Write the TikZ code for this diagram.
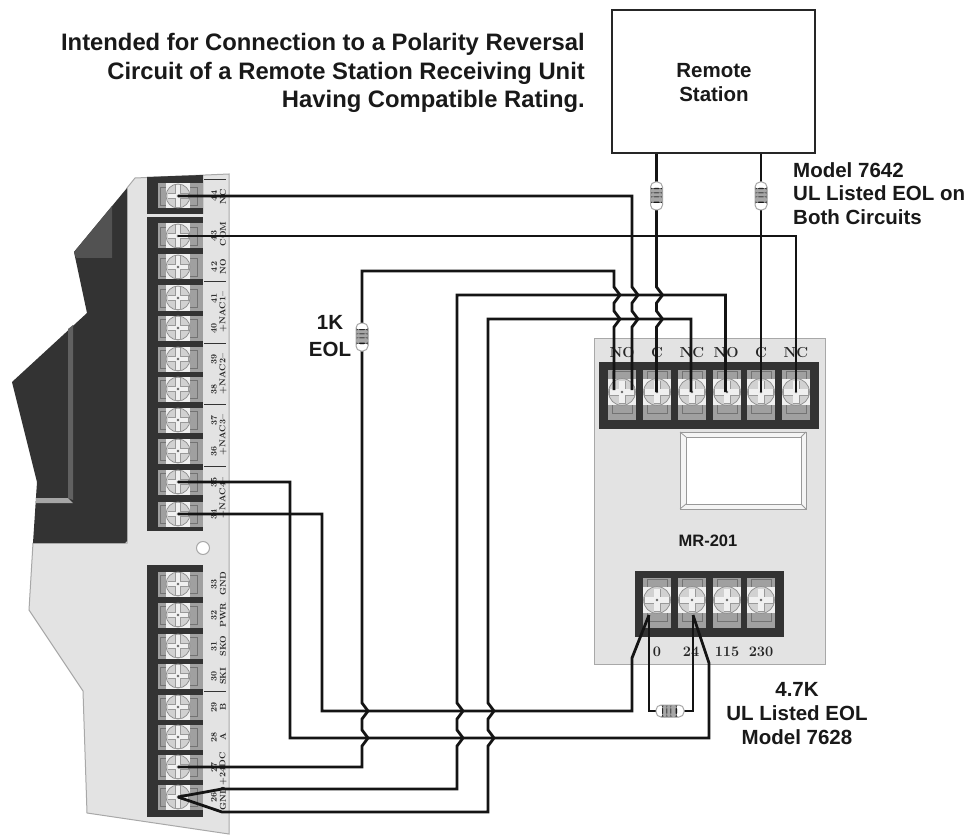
\documentclass[tikz,border=0pt]{standalone}
\usepackage{fontspec}
\newfontfamily\arialb{Liberation Sans}[BoldFont={Liberation Sans Bold}]
\usetikzlibrary{calc}
\definecolor{panel}{HTML}{E3E3E3}
\definecolor{edgeg}{HTML}{A8A8A8}
\definecolor{darkb}{HTML}{333333}
\definecolor{tabg}{HTML}{A0A0A0}
\colorlet{F0}{black!6}
\tikzset{
  x=1pt,y=-1pt,
  wire/.style={line width=2.8pt,draw=black!92,line join=miter},
  bigtxt/.style={font=\arialb\bfseries\fontsize{20.5}{24}\selectfont,text=black!90,inner sep=0pt,align=center},
  lefttag/.style={font=\bfseries\fontsize{8.5}{9}\selectfont,rotate=90,inner sep=0pt,text=black!85},
  modtag/.style={font=\bfseries\fontsize{14.5}{15}\selectfont,inner sep=0pt,text=black!85},
  tick/.style={line width=1pt,draw=black!80},
  resistor/.style={draw=black!35,line width=1pt,fill=white,minimum width=12pt,minimum height=28pt,inner sep=0pt,rounded corners=5pt,
    path picture={
      \fill[black!35] (-7,-8) rectangle (7,7);
      \fill[black!85] (-7,-8) rectangle (7,-6.8);
      \fill[black!65] (-7,-3.8) rectangle (7,-2.6);
      \fill[black!65] (-7,0.2) rectangle (7,1.4);
      \fill[black!90] (-7,5.6) rectangle (7,7);
    }},
  term/.pic={
    \fill[tabg] (-20,-12.5) rectangle (25,12.5);
    \fill[F0] (-12,-12.5) rectangle (12,12.5);
    \draw[black!55,line width=.7pt] (-12,-9) -- (-18,-9) -- (-18,9) -- (-12,9);
    \draw[black!55,line width=.7pt] (12,-9) -- (19,-9) -- (19,9) -- (12,9);
    \draw[black!45,fill=black!18,line width=.7pt] (0,0) circle[radius=12];
    \draw[black!40,line width=.5pt] (-2.6,-11) rectangle (2.6,11);
    \draw[black!40,line width=.5pt] (-10,-2.6) rectangle (10,2.6);
    \fill[F0] (-2.4,-10.8) rectangle (2.4,10.8);
    \fill[F0] (-9.8,-2.4) rectangle (9.8,2.4);
    \fill[black!60] (0,0) circle[radius=1.3];
  }
}
\newcommand\JD[2]{-- (#1,#2-8) -- (#1+6,#2) -- (#1,#2+8)}
\newcommand\JU[2]{-- (#1,#2+8) -- (#1+6,#2) -- (#1,#2-8)}
\begin{document}
\begin{tikzpicture}
\useasboundingbox (0,0) rectangle (975,837);
% ---- panel
\fill[white] (0,0) rectangle (975,837);
\draw[edgeg,fill=panel,line width=1pt] (135,178) -- (229,174) -- (229,834) -- (87,813) -- (83,691) -- (29,610) -- (33,543) -- (127,543) -- (127,188) -- cycle;
\fill[darkb] (127,188) -- (74,252) -- (87,313) -- (12,382) -- (37,482) -- (33,543) -- (125,543) -- (127,541) -- cycle;
\fill[black!68] (74,252) -- (112,206) -- (112,258) -- (76,258) -- cycle;
\fill[black!62] (68,329) -- (73,325) -- (73,500) -- (68,498) -- cycle;
\fill[black!35] (36,498) -- (68,498) -- (73,503) -- (36,503) -- cycle;
% ---- terminal blocks
\fill[darkb] (147,177) -- (203,175) -- (203,214) -- (147,214) -- cycle;
\fill[darkb] (147,217) rectangle (203,531);
\fill[darkb] (147,565) rectangle (203,817);
\foreach \n/\y in {44/196,43/236,42/267,41/298,40/328,39/359,38/389,37/420,36/451,35/482,34/514,33/584,32/615,31/646,30/676,29/707,28/737,27/767,26/797}{
  \coordinate (t\n) at (178,\y);
  \pic at (t\n) {term};
  \node[lefttag] (tag\n) at (214,\y) {\n};
}
\foreach \x/\y/\s in {223/197/NC,223/234/COM,223/267/NO,223/312/{+NAC1--},223/374/{+NAC2--},223/435/{+NAC3--},223/498/{+NAC4--},223/584/GND,223/615/PWR,223/646/SKO,223/676/SKI,223/707/B,223/737/A,223/769/{+24DC},223/799/GND}{
  \node[lefttag] (lab\y) at (\x,\y) {\s};
}
\foreach \y in {180,282,343,404,466,691}{
  \coordinate (tickA\y) at (204,\y);
  \coordinate (tickB\y) at (226,\y);
  \draw[tick] (tickA\y) -- (tickB\y);
}
\node[circle,draw=edgeg,fill=white,line width=1pt,minimum size=13pt,inner sep=0pt] (hole) at (203,548) {};
% ---- module
\node[draw=edgeg,fill=panel,line width=1pt,minimum width=231pt,minimum height=326pt,inner sep=0pt] (mod) at (709.5,501) {};
\fill[darkb] (599,362) rectangle (819,429);
\fill[darkb] (635,571) rectangle (784,637);
\foreach \n/\x in {a/622,b/657,c/692,d/727,e/761,f/796}{
  \coordinate (u\n) at (\x,392);
  \pic[rotate=-90,scale=1.12] at (u\n) {term};
}
\foreach \n/\x in {a/657,b/692,c/727,d/761}{
  \coordinate (v\n) at (\x,600);
  \pic[rotate=-90,scale=1.12] at (v\n) {term};
}
\foreach \x/\s in {622/NO,657/C,692/NC,726/NO,761/C,796/NC}{
  \node[modtag] (top\x) at (\x,353) {\s};
}
\foreach \x/\s in {657/0,691/24,727/115,761/230}{
  \node[modtag] (bot\x) at (\x,652) {\s};
}
\draw[black!40,fill=black!4,line width=1pt] (680,432) rectangle (806,509);
\draw[black!40,fill=white,line width=1pt] (686,437) rectangle (801,504);
\draw[black!40,line width=.8pt] (680,432) -- (686,437) (806,432) -- (801,437) (680,509) -- (686,504) (806,509) -- (801,504);
\node[bigtxt,font=\arialb\bfseries\fontsize{16.5}{18}\selectfont] (mr) at (708,541) {MR-201};
% ---- remote station
\node[draw=black!85,line width=2.2pt,minimum width=203pt,minimum height=143pt,inner sep=0pt] (rs) at (713.5,81.5) {};
\node[bigtxt] (rst) at (714,83) {Remote\\Station};
% ---- named resistor positions
\coordinate (r1) at (656.5,196);
\coordinate (r2) at (761,196);
\coordinate (r3) at (362,337);
\coordinate (r4) at (670,711);
% ---- wires
\draw[wire] (t44) -- (632,196) \JD{632}{295} \JD{632}{319} -- (632,390);
\draw[wire] (t43) -- (796,236) -- (796,392);
\draw[wire] (rs.south -| r1) -- (656.5,287) \JD{656.5}{295} \JD{656.5}{319} -- (656.5,392);
\draw[wire] (rs.south -| r2) -- (761,392);
\draw[wire] (t27) -- (362,767) \JU{362}{738} \JU{362}{711} -- (362,271) -- (614,271) \JD{614}{295} \JD{614}{319} -- (614,390);
\draw[wire] (t26) -- (222,789) -- (457,789) \JU{457}{738} \JU{457}{711} -- (457,295) -- (725.5,295) -- (725.5,392);
\draw[wire] (t26) -- (222,812) -- (488,812) \JU{488}{738} \JU{488}{711} -- (488,319) -- (691,319) -- (691,392);
\draw[wire] (t35) -- (290,482) -- (290,738) -- (709,738) -- (709,663) -- (693,615);
\draw[wire] (t34) -- (322,514) -- (322,711) -- (632,711) -- (632,658) -- (649,615);
\draw[wire] (649,615) -- (649,711) -- (r4) -- (693,711) -- (693,615);
% ---- resistors
\node[resistor] (R1) at (r1) {};
\node[resistor] (R2) at (r2) {};
\node[resistor] (R3) at (r3) {};
\node[resistor,rotate=90] (R4) at (r4) {};
% ---- text
\node[bigtxt,align=right,anchor=north east,font=\arialb\bfseries\fontsize{23.8}{28.7}\selectfont] (intro) at (585,33) {Intended for Connection to a Polarity Reversal\\Circuit of a Remote Station Receiving Unit\\Having Compatible Rating.};
\node[bigtxt,align=left,anchor=north west,font=\arialb\bfseries\fontsize{20.5}{23.5}\selectfont] (m7642) at (793,162) {Model 7642\\UL Listed EOL on\\Both Circuits};
\node[bigtxt,font=\arialb\bfseries\fontsize{20.5}{27}\selectfont] (eol1k) at (330,336) {1K\\EOL};
\node[bigtxt] (m7628) at (797,714) {4.7K\\UL Listed EOL\\Model 7628};
\end{tikzpicture}
\end{document}
